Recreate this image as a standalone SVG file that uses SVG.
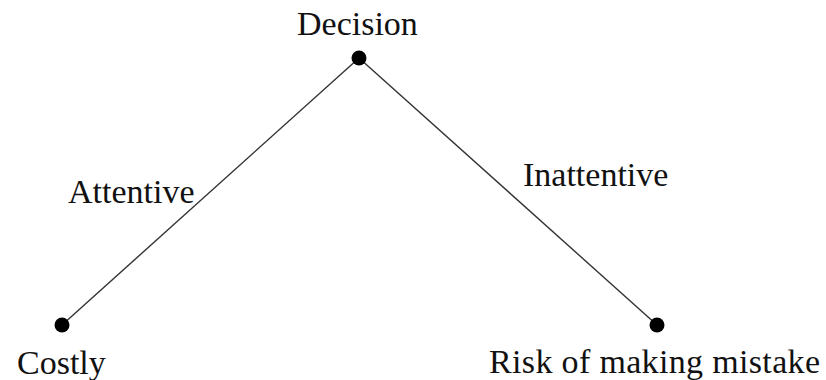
<svg xmlns="http://www.w3.org/2000/svg" width="826" height="380" viewBox="0 0 826 380">
<style>
text{font-family:"Liberation Serif","Times New Roman",serif;font-size:34px;fill:#111}
.e{stroke:#333;stroke-width:1.4;fill:none}
.d{fill:#000}
</style>
<rect width="826" height="380" fill="#fff"/>
<g id="connectors">
<line class="e" x1="359" y1="58" x2="62" y2="325"/>
<line class="e" x1="359" y1="58" x2="657" y2="325"/>
<text x="68" y="203">Attentive</text>
<text x="523" y="186">Inattentive</text>
</g>
<g id="decision">
<circle class="d" cx="359" cy="58" r="7.5"/>
<text x="297" y="35">Decision</text>
</g>
<g id="costly">
<circle class="d" cx="62" cy="325" r="7.5"/>
<text x="17" y="374">Costly</text>
</g>
<g id="risk">
<circle class="d" cx="657" cy="325" r="7.5"/>
<text x="489" y="373" textLength="331">Risk of making mistake</text>
</g>
</svg>
